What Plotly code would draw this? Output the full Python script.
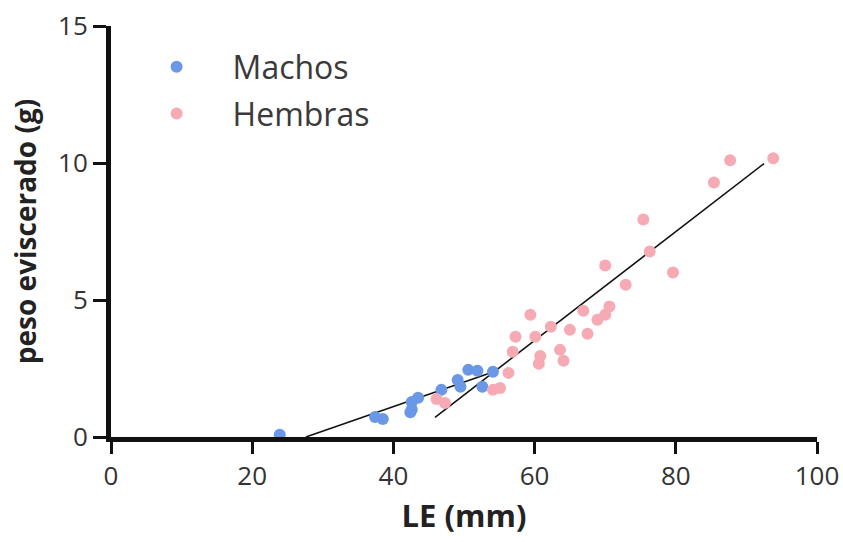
import plotly.graph_objects as go

# Data
machos_le = [23.9, 37.4, 38.5, 42.6, 42.6, 42.4, 43.5, 46.8, 49.1, 49.5, 50.6, 51.9, 52.6, 54.1]
machos_peso = [0.08, 0.73, 0.66, 1.28, 1.0, 0.9, 1.43, 1.72, 2.08, 1.83, 2.45, 2.42, 1.83, 2.38]

hembras_le = [46.1, 47.3, 54.1, 55.1, 56.3, 56.9, 57.3, 60.1, 59.4, 60.6, 60.8, 62.3, 63.6, 64.1,
              65.0, 66.9, 67.5, 68.9, 70.0, 70.6, 70.0, 72.9, 75.4, 76.3, 79.6, 85.4, 87.7, 93.8]
hembras_peso = [1.39, 1.24, 1.72, 1.79, 2.34, 3.11, 3.66, 3.66, 4.46, 2.67, 2.96, 4.02, 3.18, 2.78,
                3.91, 4.61, 3.77, 4.28, 4.46, 4.76, 6.26, 5.56, 7.94, 6.77, 6.0, 9.29, 10.1, 10.17]

# Linear fits (slope, intercept, x-range)
machos_fit = {"slope": 0.0895, "intercept": -2.47, "x": [27.6, 53.7]}
hembras_fit = {"slope": 0.1987, "intercept": -8.40, "x": [45.9, 92.5]}

x_ticks = [0, 20, 40, 60, 80, 100]
y_ticks = [0, 5, 10, 15]

blue = "#6a98e6"
pink = "#f6aab4"

fig = go.Figure()
for fit in (machos_fit, hembras_fit):
    fig.add_trace(go.Scatter(
        x=fit["x"], y=[fit["slope"] * v + fit["intercept"] for v in fit["x"]],
        mode="lines", line=dict(color="#111111", width=1.6), showlegend=False, hoverinfo="skip"))

fig.add_trace(go.Scatter(x=machos_le, y=machos_peso, mode="markers", name="Machos",
                         legendgroup="m",
                         marker=dict(color=blue, size=12, line=dict(width=0))))
fig.add_trace(go.Scatter(x=hembras_le, y=hembras_peso, mode="markers", name="Hembras",
                         legendgroup="h",
                         marker=dict(color=pink, size=12, line=dict(width=0))))

base_font = "'Open Sans', Lato, sans-serif"
fig.update_layout(
    width=843, height=542,
    margin=dict(l=111, r=26, t=26, b=105, autoexpand=False),
    paper_bgcolor="white", plot_bgcolor="white",
    font=dict(family=base_font, color="#222222"),
    legend=dict(x=0.0136, y=0.967, xanchor="left", yanchor="top",
                font=dict(size=32, color="#3a3a3a"),
                traceorder="grouped", tracegroupgap=2,
                bgcolor="rgba(0,0,0,0)", itemwidth=102),
    xaxis=dict(range=[0, 100], tickvals=x_ticks, ticks="outside", ticklen=12, tickwidth=3,
               tickcolor="#111111", showline=True, linewidth=5, linecolor="#111111",
               showgrid=False, zeroline=False, tickfont=dict(size=26, color="#333333"),
               automargin=False,
               title=dict(text="<b>LE (mm)</b>", font=dict(size=31, color="#222222"))),
    yaxis=dict(range=[0, 15], tickvals=y_ticks, ticks="outside", ticklen=13, tickwidth=3,
               tickcolor="#111111", showline=True, linewidth=5, linecolor="#111111",
               showgrid=False, zeroline=False, tickfont=dict(size=26, color="#333333"),
               automargin=False,
               title=dict(text="<b>peso eviscerado (g)</b>", font=dict(size=28, color="#222222"))),
)

fig.write_html("out.html")
